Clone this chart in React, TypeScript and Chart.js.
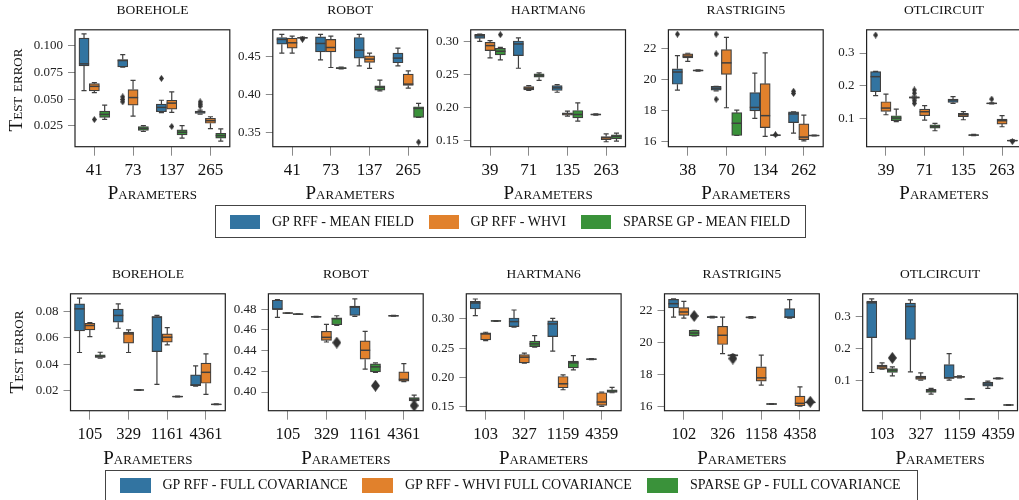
import React, { useEffect, useRef } from 'react';
import { Chart, registerables } from 'chart.js';
Chart.register(...registerables);

const FONT = "'Liberation Serif', 'Times New Roman', Times, serif";
const COLORS = ['#3274A1', '#E1812C', '#3A923A'];
const EDGE = '#3f3f3f';
const HUE_OFFSET = [-0.2667, 0, 0.2667];

type Stat = number[]; // [whisker low, q1, median, q3, whisker high]
type Outlier = number[]; // [hue, category index, value]

// ---------------- series names ----------------
const topSeriesNames = ['GP RFF - MEAN FIELD', 'GP RFF - WHVI', 'SPARSE GP - MEAN FIELD'];
const bottomSeriesNames = ['GP RFF - FULL COVARIANCE', 'GP RFF - WHVI FULL COVARIANCE', 'SPARSE GP - FULL COVARIANCE'];

// ---------------- top row: parameters ----------------
const boreholeTopParams = ['41', '73', '137', '265'];
const robotTopParams = ['41', '73', '137', '265'];
const hartmanTopParams = ['39', '71', '135', '263'];
const rastriginTopParams = ['38', '70', '134', '262'];
const otlTopParams = ['39', '71', '135', '263'];

// ---------------- bottom row: parameters ----------------
const boreholeBotParams = ['105', '329', '1161', '4361'];
const robotBotParams = ['105', '329', '1161', '4361'];
const hartmanBotParams = ['103', '327', '1159', '4359'];
const rastriginBotParams = ['102', '326', '1158', '4358'];
const otlBotParams = ['103', '327', '1159', '4359'];

// ---------------- top row: y tick values ----------------
const boreholeTopTicks = [0.025, 0.05, 0.075, 0.1];
const robotTopTicks = [0.35, 0.4, 0.45];
const hartmanTopTicks = [0.15, 0.2, 0.25, 0.3];
const rastriginTopTicks = [16, 18, 20, 22];
const otlTopTicks = [0.1, 0.2, 0.3];

// ---------------- bottom row: y tick values ----------------
const boreholeBotTicks = [0.02, 0.04, 0.06, 0.08];
const robotBotTicks = [0.4, 0.42, 0.44, 0.46, 0.48];
const hartmanBotTicks = [0.15, 0.2, 0.25, 0.3];
const rastriginBotTicks = [16, 18, 20, 22];
const otlBotTicks = [0.1, 0.2, 0.3];

// ---------------- BOREHOLE (top) ----------------
const boreholeTopMF: Stat[] = [
  [0.058, 0.081, 0.083, 0.107, 0.111],
  [0.08, 0.0801, 0.0861, 0.087, 0.0917],
  [0.0374, 0.0383, 0.0423, 0.0454, 0.049],
  [0.0361, 0.0367, 0.038, 0.0389, 0.0398],
];
const boreholeTopWHVI: Stat[] = [
  [0.0562, 0.0577, 0.062, 0.0645, 0.0655],
  [0.0342, 0.0444, 0.0515, 0.059, 0.0676],
  [0.0377, 0.0407, 0.0463, 0.049, 0.0568],
  [0.0225, 0.0275, 0.0299, 0.0321, 0.0336],
];
const boreholeTopSGP: Stat[] = [
  [0.0312, 0.033, 0.0358, 0.0389, 0.0444],
  [0.0198, 0.0207, 0.0225, 0.0244, 0.0253],
  [0.0136, 0.0167, 0.0191, 0.0213, 0.0253],
  [0.0108, 0.0136, 0.016, 0.0182, 0.0222],
];
const boreholeTopOut: Outlier[] = [
  [1, 0, 0.031], [0, 1, 0.0522], [0, 1, 0.0497], [0, 1, 0.0475],
  [0, 2, 0.0694], [1, 2, 0.0245], [0, 3, 0.0475], [0, 3, 0.0454], [0, 3, 0.0435],
];

// ---------------- ROBOT (top) ----------------
const robotTopMF: Stat[] = [
  [0.4544, 0.4662, 0.4724, 0.475, 0.479],
  [0.4456, 0.4561, 0.4671, 0.4759, 0.479],
  [0.4377, 0.4478, 0.4583, 0.475, 0.479],
  [0.4377, 0.4417, 0.4478, 0.4544, 0.461],
];
const robotTopWHVI: Stat[] = [
  [0.4544, 0.461, 0.468, 0.4741, 0.4768],
  [0.4355, 0.4561, 0.4618, 0.4724, 0.4768],
  [0.4342, 0.4421, 0.4465, 0.4509, 0.4544],
  [0.4083, 0.4118, 0.4136, 0.4268, 0.4311],
];
const robotTopSGP: Stat[] = [
  [0.4738, 0.4742, 0.4746, 0.475, 0.4755],
  [0.4336, 0.434, 0.4346, 0.4352, 0.436],
  [0.4048, 0.4057, 0.4092, 0.4114, 0.4189],
  [0.3697, 0.3697, 0.3816, 0.3838, 0.3882],
];
const robotTopOut: Outlier[] = [[2, 0, 0.4725], [2, 3, 0.3373]];

// ---------------- HARTMAN6 (top) ----------------
const hartmanTopMF: Stat[] = [
  [0.3005, 0.305, 0.309, 0.311, 0.3116],
  [0.2596, 0.2788, 0.2965, 0.301, 0.3056],
  [0.2232, 0.2258, 0.2298, 0.2333, 0.2348],
  [0.1884, 0.1888, 0.1894, 0.19, 0.1904],
];
const hartmanTopWHVI: Stat[] = [
  [0.2753, 0.2864, 0.294, 0.299, 0.3015],
  [0.2258, 0.2268, 0.2293, 0.2318, 0.2333],
  [0.1869, 0.1885, 0.1904, 0.1918, 0.1944],
  [0.148, 0.151, 0.154, 0.156, 0.16],
];
const hartmanTopSGP: Stat[] = [
  [0.2722, 0.2798, 0.2854, 0.2899, 0.2914],
  [0.2411, 0.246, 0.2485, 0.251, 0.2525],
  [0.1793, 0.1843, 0.1894, 0.1955, 0.207],
  [0.149, 0.1525, 0.156, 0.1586, 0.161],
];
const hartmanTopOut: Outlier[] = [[2, 0, 0.3106]];

// ---------------- RASTRIGIN5 (top) ----------------
const rastriginTopMF: Stat[] = [
  [19.3, 19.68, 20.47, 20.68, 21.53],
  [19.26, 19.3, 19.43, 19.55, 19.55],
  [17.49, 17.96, 18.19, 19.15, 20.4],
  [16.53, 17.21, 17.77, 17.91, 17.91],
];
const rastriginTopWHVI: Stat[] = [
  [21.15, 21.38, 21.49, 21.64, 21.68],
  [18.17, 20.32, 21.06, 21.91, 22.7],
  [16.32, 16.89, 17.66, 19.72, 21.7],
  [16.04, 16.11, 16.28, 17.13, 17.7],
];
const rastriginTopSGP: Stat[] = [
  [20.53, 20.54, 20.57, 20.6, 20.61],
  [16.38, 16.38, 17.17, 17.85, 18.02],
  [16.37, 16.38, 16.4, 16.42, 16.43],
  [16.36, 16.37, 16.38, 16.4, 16.41],
];
const rastriginTopOut: Outlier[] = [
  [0, 0, 22.91], [0, 1, 22.91], [0, 1, 21.64], [0, 1, 18.72],
  [2, 2, 16.44], [0, 3, 19.23], [0, 3, 19.09],
];

// ---------------- OTLCIRCUIT (top) ----------------
const otlTopMF: Stat[] = [
  [0.1694, 0.1816, 0.2276, 0.243, 0.244],
  [0.16, 0.162, 0.164, 0.166, 0.168],
  [0.1459, 0.149, 0.1561, 0.1592, 0.1663],
  [0.1445, 0.145, 0.146, 0.147, 0.1475],
];
const otlTopWHVI: Stat[] = [
  [0.1112, 0.1214, 0.1316, 0.151, 0.1745],
  [0.0949, 0.1082, 0.1204, 0.1286, 0.1388],
  [0.0959, 0.1051, 0.1112, 0.1153, 0.1204],
  [0.0745, 0.0827, 0.0929, 0.098, 0.1082],
];
const otlTopSGP: Stat[] = [
  [0.0898, 0.0929, 0.101, 0.1082, 0.1286],
  [0.0622, 0.0704, 0.0755, 0.0806, 0.0847],
  [0.047, 0.048, 0.049, 0.05, 0.051],
  [0.03, 0.031, 0.032, 0.033, 0.034],
];
const otlTopOut: Outlier[] = [
  [0, 0, 0.355], [0, 1, 0.187], [0, 1, 0.177], [0, 1, 0.154], [0, 1, 0.146],
  [0, 3, 0.159], [2, 3, 0.029],
];

// ---------------- BOREHOLE (bottom) ----------------
const boreholeBotFC: Stat[] = [
  [0.0489, 0.0653, 0.082, 0.0858, 0.0901],
  [0.0673, 0.0719, 0.077, 0.0818, 0.0858],
  [0.0248, 0.0496, 0.0757, 0.0762, 0.077],
  [0.0235, 0.0238, 0.0243, 0.0319, 0.0387],
];
const boreholeBotWHVI: Stat[] = [
  [0.061, 0.0661, 0.0694, 0.0711, 0.0716],
  [0.0489, 0.056, 0.063, 0.0643, 0.0661],
  [0.0547, 0.0567, 0.0605, 0.063, 0.0678],
  [0.0172, 0.0256, 0.0339, 0.0408, 0.0478],
];
const boreholeBotSGP: Stat[] = [
  [0.0446, 0.0451, 0.0458, 0.0471, 0.0491],
  [0.0202, 0.0203, 0.0205, 0.0207, 0.0208],
  [0.0152, 0.0153, 0.0155, 0.0157, 0.0158],
  [0.0093, 0.0094, 0.0096, 0.0098, 0.0099],
];
const boreholeBotOut: Outlier[] = [];

// ---------------- ROBOT (bottom) ----------------
const robotBotFC: Stat[] = [
  [0.472, 0.4797, 0.48, 0.4886, 0.4893],
  [0.4722, 0.4723, 0.4726, 0.4729, 0.473],
  [0.473, 0.4739, 0.4819, 0.4829, 0.4899],
  [0.4732, 0.4733, 0.4736, 0.4739, 0.474],
];
const robotBotWHVI: Stat[] = [
  [0.4759, 0.476, 0.4762, 0.4764, 0.4765],
  [0.4483, 0.4499, 0.4528, 0.4586, 0.4653],
  [0.4221, 0.4317, 0.4403, 0.4493, 0.4586],
  [0.41, 0.4106, 0.4122, 0.4195, 0.4275],
];
const robotBotSGP: Stat[] = [
  [0.4749, 0.475, 0.4752, 0.4754, 0.4755],
  [0.4643, 0.465, 0.4707, 0.4717, 0.4736],
  [0.4189, 0.4195, 0.4243, 0.4272, 0.4282],
  [0.3914, 0.3914, 0.393, 0.3946, 0.3971],
];
const robotBotOut: Outlier[] = [[2, 1, 0.4477], [2, 2, 0.4061], [2, 3, 0.3869]];

// ---------------- HARTMAN6 (bottom) ----------------
const hartmanBotFC: Stat[] = [
  [0.3057, 0.317, 0.3273, 0.3301, 0.3341],
  [0.2858, 0.2869, 0.2955, 0.3017, 0.3153],
  [0.2449, 0.2699, 0.2915, 0.2966, 0.3011],
  [0.2305, 0.2308, 0.2313, 0.2318, 0.2321],
];
const hartmanBotWHVI: Stat[] = [
  [0.2631, 0.2642, 0.2744, 0.2761, 0.2773],
  [0.2244, 0.225, 0.2347, 0.2392, 0.2415],
  [0.179, 0.1824, 0.1892, 0.2017, 0.2045],
  [0.1506, 0.1523, 0.158, 0.1739, 0.175],
];
const hartmanBotSGP: Stat[] = [
  [0.2958, 0.2961, 0.2966, 0.2971, 0.2974],
  [0.2517, 0.2528, 0.2574, 0.262, 0.2716],
  [0.2131, 0.2165, 0.225, 0.2278, 0.2375],
  [0.1739, 0.1744, 0.1767, 0.179, 0.183],
];
const hartmanBotOut: Outlier[] = [];

// ---------------- RASTRIGIN5 (bottom) ----------------
const rastriginBotFC: Stat[] = [
  [21.6, 22.17, 22.44, 22.71, 22.75],
  [21.55, 21.57, 21.6, 21.63, 21.65],
  [21.53, 21.55, 21.58, 21.61, 21.63],
  [21.54, 21.54, 21.6, 22.13, 22.69],
];
const rastriginBotWHVI: Stat[] = [
  [21.54, 21.71, 21.92, 22.19, 22.58],
  [19.31, 19.88, 20.46, 21.02, 21.6],
  [17.33, 17.58, 17.79, 18.48, 19.21],
  [16.02, 16.04, 16.19, 16.65, 17.23],
];
const rastriginBotSGP: Stat[] = [
  [20.42, 20.42, 20.6, 20.77, 20.77],
  [19.15, 19.17, 19.2, 19.23, 19.25],
  [16.12, 16.13, 16.15, 16.17, 16.18],
  [16.22, 16.23, 16.25, 16.27, 16.28],
];
const rastriginBotOut: Outlier[] = [[2, 0, 21.67], [2, 1, 19.0], [2, 3, 16.29]];

// ---------------- OTLCIRCUIT (bottom) ----------------
const otlBotFC: Stat[] = [
  [0.1247, 0.233, 0.3412, 0.3464, 0.3536],
  [0.1268, 0.2278, 0.3299, 0.3402, 0.3505],
  [0.101, 0.1062, 0.1082, 0.1495, 0.1835],
  [0.0753, 0.0825, 0.0887, 0.0948, 0.098],
];
const otlBotWHVI: Stat[] = [
  [0.135, 0.135, 0.1423, 0.1474, 0.1546],
  [0.101, 0.1031, 0.1082, 0.1134, 0.1237],
  [0.108, 0.1095, 0.1113, 0.113, 0.1145],
  [0.1045, 0.105, 0.1062, 0.1075, 0.108],
];
const otlBotSGP: Stat[] = [
  [0.1144, 0.1247, 0.132, 0.1371, 0.1423],
  [0.0577, 0.0629, 0.068, 0.0722, 0.0753],
  [0.041, 0.0415, 0.0423, 0.0431, 0.0436],
  [0.0225, 0.023, 0.0237, 0.0244, 0.0249],
];
const otlBotOut: Outlier[] = [[2, 0, 0.17]];

// ---------------- layout (screen px) ----------------
interface PanelCfg {
  title: string;
  params: string[];
  names: string[];
  series: Stat[][];
  outliers: Outlier[];
  yTicks: number[];
  decimals: number;
  yMin: number;
  yMax: number;
  frame: number[]; // left, top, width, height
  big: boolean;
}

const FW = 154.8;
const TOP_T = 29, TOP_H = 117.7;
const BOT_T = 293.3, BOT_H = 117.4;

const panels: PanelCfg[] = [
  { title: 'borehole', params: boreholeTopParams, names: topSeriesNames, series: [boreholeTopMF, boreholeTopWHVI, boreholeTopSGP], outliers: boreholeTopOut, yTicks: boreholeTopTicks, decimals: 3, yMin: 0.0056, yMax: 0.1148, frame: [75, TOP_T, FW, TOP_H], big: false },
  { title: 'robot', params: robotTopParams, names: topSeriesNames, series: [robotTopMF, robotTopWHVI, robotTopSGP], outliers: robotTopOut, yTicks: robotTopTicks, decimals: 2, yMin: 0.3312, yMax: 0.4851, frame: [272.8, TOP_T, FW, TOP_H], big: false },
  { title: 'hartman6', params: hartmanTopParams, names: topSeriesNames, series: [hartmanTopMF, hartmanTopWHVI, hartmanTopSGP], outliers: hartmanTopOut, yTicks: hartmanTopTicks, decimals: 2, yMin: 0.1405, yMax: 0.318, frame: [470.7, TOP_T, FW, TOP_H], big: false },
  { title: 'rastrigin5', params: rastriginTopParams, names: topSeriesNames, series: [rastriginTopMF, rastriginTopWHVI, rastriginTopSGP], outliers: rastriginTopOut, yTicks: rastriginTopTicks, decimals: 0, yMin: 15.66, yMax: 23.19, frame: [668.4, TOP_T, FW, TOP_H], big: false },
  { title: 'otlcircuit', params: otlTopParams, names: topSeriesNames, series: [otlTopMF, otlTopWHVI, otlTopSGP], outliers: otlTopOut, yTicks: otlTopTicks, decimals: 1, yMin: 0.0134, yMax: 0.371, frame: [866.6, TOP_T, FW, TOP_H], big: false },
  { title: 'borehole', params: boreholeBotParams, names: bottomSeriesNames, series: [boreholeBotFC, boreholeBotWHVI, boreholeBotSGP], outliers: boreholeBotOut, yTicks: boreholeBotTicks, decimals: 2, yMin: 0.0048, yMax: 0.0934, frame: [70.5, BOT_T, FW, BOT_H], big: true },
  { title: 'robot', params: robotBotParams, names: bottomSeriesNames, series: [robotBotFC, robotBotWHVI, robotBotSGP], outliers: robotBotOut, yTicks: robotBotTicks, decimals: 2, yMin: 0.382, yMax: 0.4948, frame: [268.4, BOT_T, FW, BOT_H], big: true },
  { title: 'hartman6', params: hartmanBotParams, names: bottomSeriesNames, series: [hartmanBotFC, hartmanBotWHVI, hartmanBotSGP], outliers: hartmanBotOut, yTicks: hartmanBotTicks, decimals: 2, yMin: 0.1432, yMax: 0.343, frame: [466.3, BOT_T, FW, BOT_H], big: true },
  { title: 'rastrigin5', params: rastriginBotParams, names: bottomSeriesNames, series: [rastriginBotFC, rastriginBotWHVI, rastriginBotSGP], outliers: rastriginBotOut, yTicks: rastriginBotTicks, decimals: 0, yMin: 15.73, yMax: 23.06, frame: [664.5, BOT_T, FW, BOT_H], big: true },
  { title: 'otlcircuit', params: otlBotParams, names: bottomSeriesNames, series: [otlBotFC, otlBotWHVI, otlBotSGP], outliers: otlBotOut, yTicks: otlBotTicks, decimals: 1, yMin: 0.0059, yMax: 0.3693, frame: [862.7, BOT_T, FW, BOT_H], big: true },
];

function makeDiamond(w: number, h: number, color: string): HTMLCanvasElement {
  const c = document.createElement('canvas');
  c.width = w;
  c.height = h;
  const g = c.getContext('2d')!;
  g.fillStyle = color;
  g.beginPath();
  g.moveTo(w / 2, 0);
  g.lineTo(w, h / 2);
  g.lineTo(w / 2, h);
  g.lineTo(0, h / 2);
  g.closePath();
  g.fill();
  return c;
}

const boxDecor = {
  id: 'boxDecor',
  afterDatasetDraw(chart: any, args: any) {
    const ds = chart.data.datasets[args.index];
    const stats: Stat[] | undefined = ds.stats;
    if (!stats) return;
    const ctx = chart.ctx;
    const y = chart.scales.y;
    ctx.save();
    ctx.strokeStyle = EDGE;
    args.meta.data.forEach((bar: any, j: number) => {
      const s = stats[j];
      const { x, width } = bar.getProps(['x', 'width'], true);
      const lo = y.getPixelForValue(s[0]);
      const q1 = y.getPixelForValue(s[1]);
      const md = y.getPixelForValue(s[2]);
      const q3 = y.getPixelForValue(s[3]);
      const hi = y.getPixelForValue(s[4]);
      ctx.lineWidth = 1.2;
      ctx.beginPath();
      ctx.moveTo(x, q1); ctx.lineTo(x, lo);
      ctx.moveTo(x, q3); ctx.lineTo(x, hi);
      ctx.moveTo(x - width / 4, lo); ctx.lineTo(x + width / 4, lo);
      ctx.moveTo(x - width / 4, hi); ctx.lineTo(x + width / 4, hi);
      ctx.stroke();
      ctx.lineWidth = 1.5;
      ctx.beginPath();
      ctx.moveTo(x - width / 2, md); ctx.lineTo(x + width / 2, md);
      ctx.stroke();
    });
    ctx.restore();
  },
  afterDraw(chart: any) {
    const { ctx, chartArea } = chart;
    ctx.save();
    ctx.strokeStyle = '#222';
    ctx.lineWidth = 1.2;
    ctx.strokeRect(chartArea.left, chartArea.top, chartArea.right - chartArea.left, chartArea.bottom - chartArea.top);
    ctx.restore();
  },
};

const Y_AXIS_W = 58, PAD_T = 12, X_AXIS_H = 40, PAD_R = 6;

function Panel({ cfg }: { cfg: PanelCfg }) {
  const ref = useRef<HTMLCanvasElement>(null);
  const [fl, ft, fw, fh] = cfg.frame;
  const left = Math.round(fl - Y_AXIS_W);
  const top = Math.round(ft - PAD_T);
  const yAxisW = fl - left;
  const padTop = ft - top;
  const width = Math.round(yAxisW + fw + PAD_R);
  const padRight = width - yAxisW - fw;
  const height = Math.round(padTop + fh + X_AXIS_H);
  const xAxisH = height - padTop - fh;

  useEffect(() => {
    const canvas = ref.current!;
    const boxW = (fw / 4) * 0.262;
    const diamond = cfg.big ? makeDiamond(9, 12, '#333') : makeDiamond(5, 7, '#333');
    const datasets: any[] = [
      ...cfg.series.map((stats, h) => ({
        type: 'bar',
        label: cfg.names[h],
        data: stats.map((s, i) => ({ x: i + HUE_OFFSET[h], y: [s[1], s[3]] })),
        stats,
        backgroundColor: COLORS[h],
        borderColor: EDGE,
        borderWidth: 1.2,
        borderSkipped: false,
        barThickness: boxW,
        grouped: false,
        order: 2,
      })),
      ...[0, 1, 2].map((h) => ({
        type: 'scatter',
        label: cfg.names[h] + ' outliers',
        data: cfg.outliers.filter((o) => o[0] === h).map((o) => ({ x: o[1] + HUE_OFFSET[h], y: o[2] })),
        pointStyle: diamond,
        pointRadius: 4,
        order: 0,
      })),
    ];
    const chart = new Chart(canvas, {
      type: 'bar',
      data: { datasets },
      plugins: [boxDecor],
      options: {
        responsive: false,
        animation: false,
        events: [],
        layout: { padding: { top: padTop, right: padRight, left: 0, bottom: 0 } },
        plugins: { legend: { display: false }, tooltip: { enabled: false } },
        scales: {
          x: {
            type: 'linear',
            offset: false,
            min: -0.5,
            max: 3.5,
            afterBuildTicks: (s: any) => { s.ticks = cfg.params.map((_, i) => ({ value: i })); },
            afterFit: (s: any) => { s.height = xAxisH; },
            ticks: {
              callback: (v: any) => cfg.params[Math.round(Number(v))],
              font: { family: FONT, size: cfg.big ? 16.5 : 17 },
              color: '#111',
              padding: 5,
              maxRotation: 0,
              autoSkip: false,
            },
            grid: { offset: false, drawOnChartArea: false, drawTicks: true, tickLength: 9, color: '#8a8a8a', lineWidth: 1 },
            border: { display: false },
          },
          y: {
            type: 'linear',
            min: cfg.yMin,
            max: cfg.yMax,
            afterBuildTicks: (s: any) => { s.ticks = cfg.yTicks.map((v) => ({ value: v })); },
            afterFit: (s: any) => { s.width = yAxisW; },
            ticks: {
              callback: (v: any) => Number(v).toFixed(cfg.decimals),
              font: { family: FONT, size: 13 },
              color: '#222',
              padding: 5,
              autoSkip: false,
            },
            grid: { drawOnChartArea: false, drawTicks: true, tickLength: 7, color: '#8a8a8a', lineWidth: 1 },
            border: { display: false },
          },
        },
      } as any,
    } as any);
    return () => chart.destroy();
  }, []);

  return (
    <canvas
      ref={ref}
      width={width}
      height={height}
      style={{ position: 'absolute', left, top, width, height }}
    />
  );
}

function Label({ text, x, y, style }: { text: string; x: number; y: number; style: React.CSSProperties }) {
  return (
    <div
      style={{
        position: 'absolute',
        left: x,
        top: y,
        transform: 'translate(-50%, -50%)',
        whiteSpace: 'nowrap',
        fontFamily: FONT,
        color: '#111',
        lineHeight: 1,
        ...style,
      }}
    >
      {text}
    </div>
  );
}

function Legend({ names, box, swatchX, textX, cy, sw, sh }: { names: string[]; box: number[]; swatchX: number[]; textX: number[]; cy: number; sw: number; sh: number }) {
  return (
    <>
      <div
        style={{
          position: 'absolute',
          left: box[0],
          top: box[1],
          width: box[2],
          height: box[3],
          border: '1px solid #444',
          boxSizing: 'border-box',
          background: '#fff',
        }}
      />
      {names.map((n, i) => (
        <React.Fragment key={n}>
          <div style={{ position: 'absolute', left: swatchX[i], top: cy - sh / 2, width: sw, height: sh, background: COLORS[i] }} />
          <div
            style={{
              position: 'absolute',
              left: textX[i],
              top: cy,
              transform: 'translateY(-50%)',
              fontFamily: FONT,
              fontSize: 14,
              lineHeight: 1,
              color: '#111',
              whiteSpace: 'nowrap',
            }}
          >
            {n}
          </div>
        </React.Fragment>
      ))}
    </>
  );
}

export default function App() {
  return (
    <div style={{ position: 'absolute', left: 0, top: 0, width: 1019, height: 500, overflow: 'hidden', background: '#fff' }}>
      {panels.map((p, i) => (
        <Panel key={i} cfg={p} />
      ))}
      {panels.map((p, i) => {
        const [fl, ft, fw, fh] = p.frame;
        const cx = fl + fw / 2;
        const top = i < 5;
        return (
          <React.Fragment key={'t' + i}>
            <Label text={p.title.toUpperCase()} x={cx} y={top ? 10 : 274.3} style={{ fontSize: 13.5 }} />
            <Label text="Parameters" x={cx} y={top ? 192 : 456.7} style={{ fontSize: 19, fontVariant: 'small-caps' }} />
          </React.Fragment>
        );
      })}
      <Label text="Test error" x={15} y={90} style={{ fontSize: 19, fontVariant: 'small-caps', transform: 'translate(-50%, -50%) rotate(-90deg)' }} />
      <Label text="Test error" x={15.5} y={352} style={{ fontSize: 19, fontVariant: 'small-caps', transform: 'translate(-50%, -50%) rotate(-90deg)' }} />
      <Legend
        names={topSeriesNames}
        box={[215, 205, 591, 33]}
        swatchX={[230, 428.5, 580.5]}
        textX={[272, 470.5, 623]}
        cy={221.5}
        sw={30}
        sh={14}
      />
      <Legend
        names={bottomSeriesNames}
        box={[105, 470, 813, 40]}
        swatchX={[120, 361.5, 646.5]}
        textX={[162.5, 405, 690]}
        cy={485}
        sw={31}
        sh={15}
      />
    </div>
  );
}
